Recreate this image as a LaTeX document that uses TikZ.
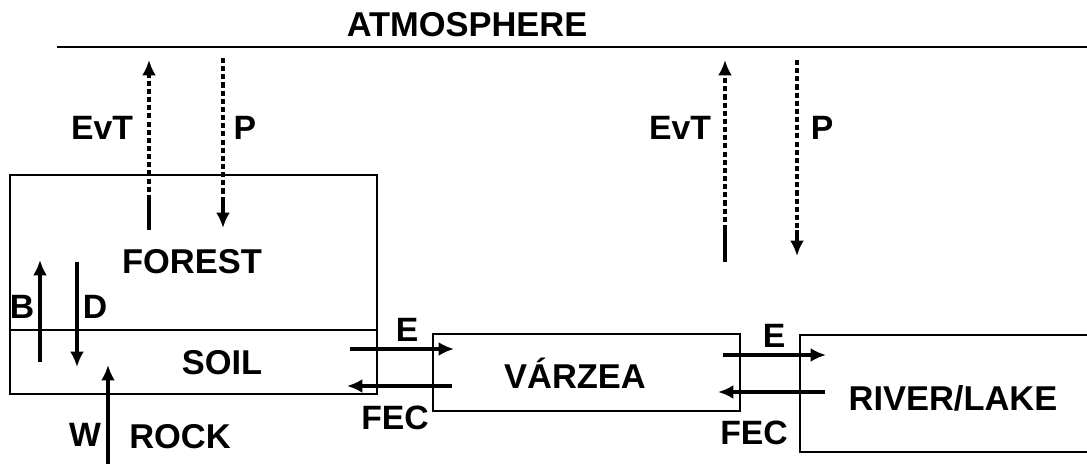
\documentclass[tikz,border=0pt]{standalone}
\usepackage{fontspec}
\setmainfont{Liberation Sans}
\usepackage{tikz}
\usetikzlibrary{arrows.meta,positioning}

\tikzset{
  tip/.tip={Latex[length=11pt,width=10pt]},
  flux/.style={line width=2.3pt,-tip},
  fluxline/.style={line width=2.3pt},
  dflux/.style={line width=2.4pt,dash pattern=on 3.6pt off 2.2pt},
  boxline/.style={line width=1.9pt},
  lbl/.style={font=\fontsize{24}{27}\selectfont\bfseries,inner sep=0pt},
  comp/.style={font=\fontsize{24.5}{28}\selectfont\bfseries,inner sep=0pt}
}

\begin{document}
\begin{tikzpicture}[x=0.25mm,y=-0.25mm]
  \useasboundingbox (0,0) rectangle (1087,464);
  % atmosphere
  \node[comp] (atm) at (467,25) {ATMOSPHERE};
  \draw[boxline] (57,47) -- (1087,47);
  % compartments
  \draw[boxline] (10,175) rectangle (377,394);
  \draw[boxline] (10,330) -- (377,330);
  \draw[boxline] (433,334) rectangle (740,411);
  \draw[boxline] (1087,335) -| (800,452) -- (1087,452);
  \node[comp] (forest) at (192,262) {FOREST};
  \node[comp] (soil) at (222,363) {SOIL};
  \node[comp] (rock) at (180,437) {ROCK};
  \node[comp] (varzea) at (575,373) {VÁRZEA};
  \node[comp] (river) at (953,398) {RIVER/LAKE};
  % end points of the fluxes
  \coordinate (evtA0) at (149,230);
  \coordinate (evtA1) at (149,200);
  \coordinate (evtA2) at (149,60);
  \coordinate (pA0) at (223,58);
  \coordinate (pA1) at (223,200);
  \coordinate (pA2) at (223,228);
  \coordinate (evtB0) at (725,262);
  \coordinate (evtB1) at (725,230);
  \coordinate (evtB2) at (725,60);
  \coordinate (pB0) at (797,60);
  \coordinate (pB1) at (797,230);
  \coordinate (pB2) at (797,256);
  \coordinate (b0) at (40,362);
  \coordinate (b1) at (40,260);
  \coordinate (d0) at (77,262);
  \coordinate (d1) at (77,367);
  \coordinate (w0) at (108,464);
  \coordinate (w1) at (108,365);
  \coordinate (eA0) at (350,349);
  \coordinate (eA1) at (454,349);
  \coordinate (fA0) at (452,386);
  \coordinate (fA1) at (347,386);
  \coordinate (eB0) at (723,355);
  \coordinate (eB1) at (826,355);
  \coordinate (fB0) at (825,392);
  \coordinate (fB1) at (718,392);
  % vertical fluxes
  \draw[fluxline] (evtA0) -- (evtA1);
  \draw[dflux,-tip] (evtA1) -- (evtA2);
  \draw[dflux] (pA0) -- (pA1);
  \draw[flux] (pA1) -- (pA2);
  \draw[fluxline] (evtB0) -- (evtB1);
  \draw[dflux,-tip] (evtB1) -- (evtB2);
  \draw[dflux] (pB0) -- (pB1);
  \draw[flux] (pB1) -- (pB2);
  \draw[flux] (b0) -- (b1);
  \draw[flux] (d0) -- (d1);
  \draw[flux] (w0) -- (w1);
  % lateral fluxes
  \draw[flux] (eA0) -- (eA1);
  \draw[flux] (fA0) -- (fA1);
  \draw[flux] (eB0) -- (eB1);
  \draw[flux] (fB0) -- (fB1);
  % labels
  \node[lbl] (evtAl) at (102,128) {EvT};
  \node[lbl] (pAl) at (245,128) {P};
  \node[lbl] (evtBl) at (680,128) {EvT};
  \node[lbl] (pBl) at (822,128) {P};
  \node[lbl] (bl) at (22,307) {B};
  \node[lbl] (dl) at (95,307) {D};
  \node[lbl] (wl) at (85,435) {W};
  \node[lbl] (eAl) at (407,330) {E};
  \node[lbl] (fAl) at (395,418) {FEC};
  \node[lbl] (eBl) at (774,336) {E};
  \node[lbl] (fBl) at (754,433) {FEC};
\end{tikzpicture}
\end{document}
